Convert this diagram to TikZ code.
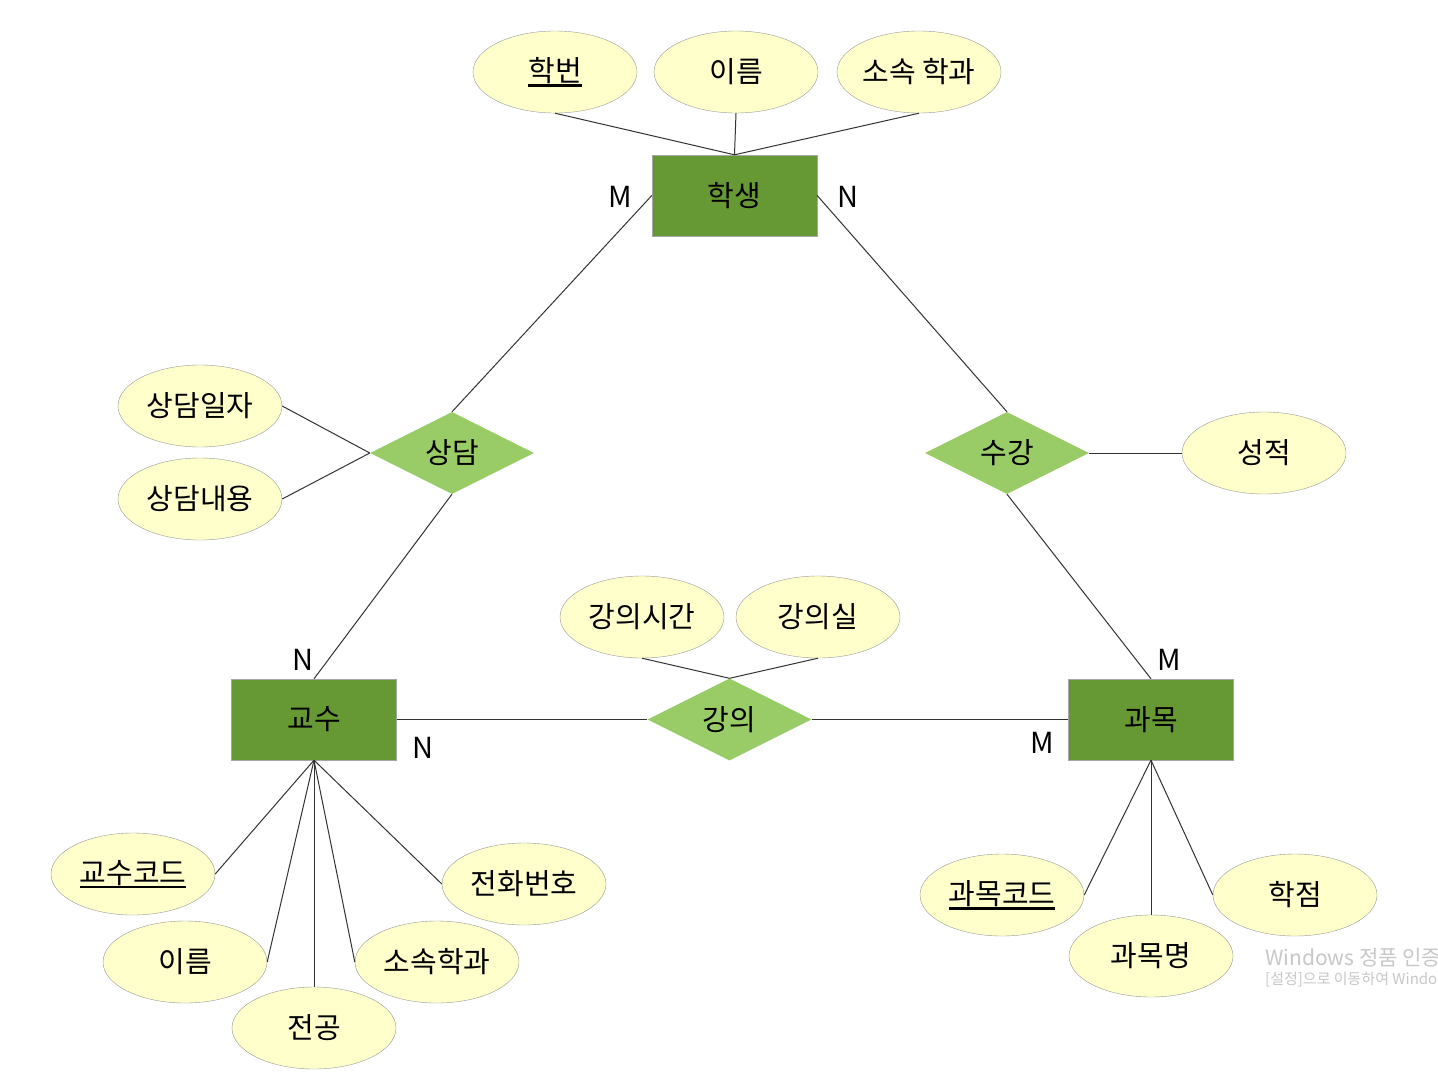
\documentclass[tikz,border=0pt]{standalone}
\usepackage{fontspec}
\setmainfont{Noto Sans CJK KR}
\usetikzlibrary{shapes.geometric}
\definecolor{entgreen}{RGB}{102,153,51}
\definecolor{relgreen}{RGB}{153,204,102}
\definecolor{attryellow}{RGB}{255,255,204}
\definecolor{wmgray}{RGB}{200,200,200}
\newcommand{\ctext}[1]{\makebox[0pt]{#1}}
\newcommand{\keytext}[1]{\setbox0\hbox{#1}\makebox[0pt]{\rlap{\rule[-5pt]{\wd0}{2.5pt}}\box0}}
\tikzset{
  every node/.style={font=\fontsize{29}{34}\selectfont},
  entity/.style={rectangle,draw=black!35,fill=entgreen,minimum width=165pt,minimum height=81pt,inner sep=0pt},
  relation/.style={diamond,fill=relgreen,minimum width=164pt,minimum height=82pt,inner sep=0pt},
  attr/.style={ellipse,draw=black!40,fill=attryellow,minimum width=164pt,minimum height=82pt,inner sep=0pt},
  card/.style={inner sep=0pt},
  link/.style={draw=black!80,line width=1pt}
}
\begin{document}
\begin{tikzpicture}[x=1pt,y=-1pt]
  \useasboundingbox[fill=white] (0,0) rectangle (1438,1079);

  \node[entity] (stu) at (734.5,195.5) {학생};
  \node[entity] (prof) at (314,719.5) {교수};
  \node[entity] (course) at (1151,719.5) {과목};

  \node[relation] (consult) at (452,453) {상담};
  \node[relation] (enroll) at (1007,453) {수강};
  \node[relation] (lecture) at (729.5,719.5) {강의};

  \node[attr] (sid) at (555,72) {\keytext{학번}};
  \node[attr] (sname) at (736,72) {\ctext{이름}};
  \node[attr] (sdept) at (919,72) {\ctext{소속 학과}};

  \node[attr] (cdate) at (200,406) {\ctext{상담일자}};
  \node[attr] (cnote) at (200,499) {\ctext{상담내용}};
  \node[attr] (grade) at (1264,453) {\ctext{성적}};
  \node[attr] (ltime) at (642,617) {\ctext{강의시간}};
  \node[attr] (lroom) at (818,617) {\ctext{강의실}};

  \node[attr] (pid) at (133,874) {\keytext{교수코드}};
  \node[attr] (pname) at (185,962) {\ctext{이름}};
  \node[attr] (pmajor) at (314,1028) {\ctext{전공}};
  \node[attr] (pdept) at (437,962) {\ctext{소속학과}};
  \node[attr] (pphone) at (524,884) {\ctext{전화번호}};

  \node[attr] (cid) at (1002,895) {\keytext{과목코드}};
  \node[attr] (ctitle) at (1151,956) {\ctext{과목명}};
  \node[attr] (credit) at (1295,895) {\ctext{학점}};

  \draw[link] (sid.south) -- (stu.north);
  \draw[link] (sname.south) -- (stu.north);
  \draw[link] (sdept.south) -- (stu.north);

  \draw[link] (stu.west) -- (consult.north);
  \draw[link] (stu.east) -- (enroll.north);
  \draw[link] (consult.south) -- (prof.north);
  \draw[link] (enroll.south) -- (course.north);
  \draw[link] (prof.east) -- (lecture.west);
  \draw[link] (lecture.east) -- (course.west);

  \draw[link] (cdate.east) -- (consult.west);
  \draw[link] (cnote.east) -- (consult.west);
  \draw[link] (enroll.east) -- (grade.west);
  \draw[link] (ltime.south) -- (lecture.north);
  \draw[link] (lroom.south) -- (lecture.north);

  \draw[link] (pid.east) -- (prof.south);
  \draw[link] (pname.east) -- (prof.south);
  \draw[link] (pmajor.north) -- (prof.south);
  \draw[link] (pdept.west) -- (prof.south);
  \draw[link] (pphone.west) -- (prof.south);

  \draw[link] (cid.east) -- (course.south);
  \draw[link] (ctitle.north) -- (course.south);
  \draw[link] (credit.west) -- (course.south);

  \node[card] at (620,197) {M};
  \node[card] at (848,197) {N};
  \node[card] at (303,660) {N};
  \node[card] at (1169,660) {M};
  \node[card] at (423,748) {N};
  \node[card] at (1042,743) {M};

  \begin{scope}
    \clip (0,0) rectangle (1438,1079);
    \node[anchor=west,inner sep=0pt,text=wmgray,font=\fontsize{21}{24}\selectfont] (wm1) at (1265,958) {Windows 정품 인증};
    \node[anchor=west,inner sep=0pt,text=wmgray,font=\fontsize{15}{18}\selectfont] (wm2) at (1265,980) {[설정]으로 이동하여 Windows를 정품 인증합니다.};
  \end{scope}
\end{tikzpicture}
\end{document}
